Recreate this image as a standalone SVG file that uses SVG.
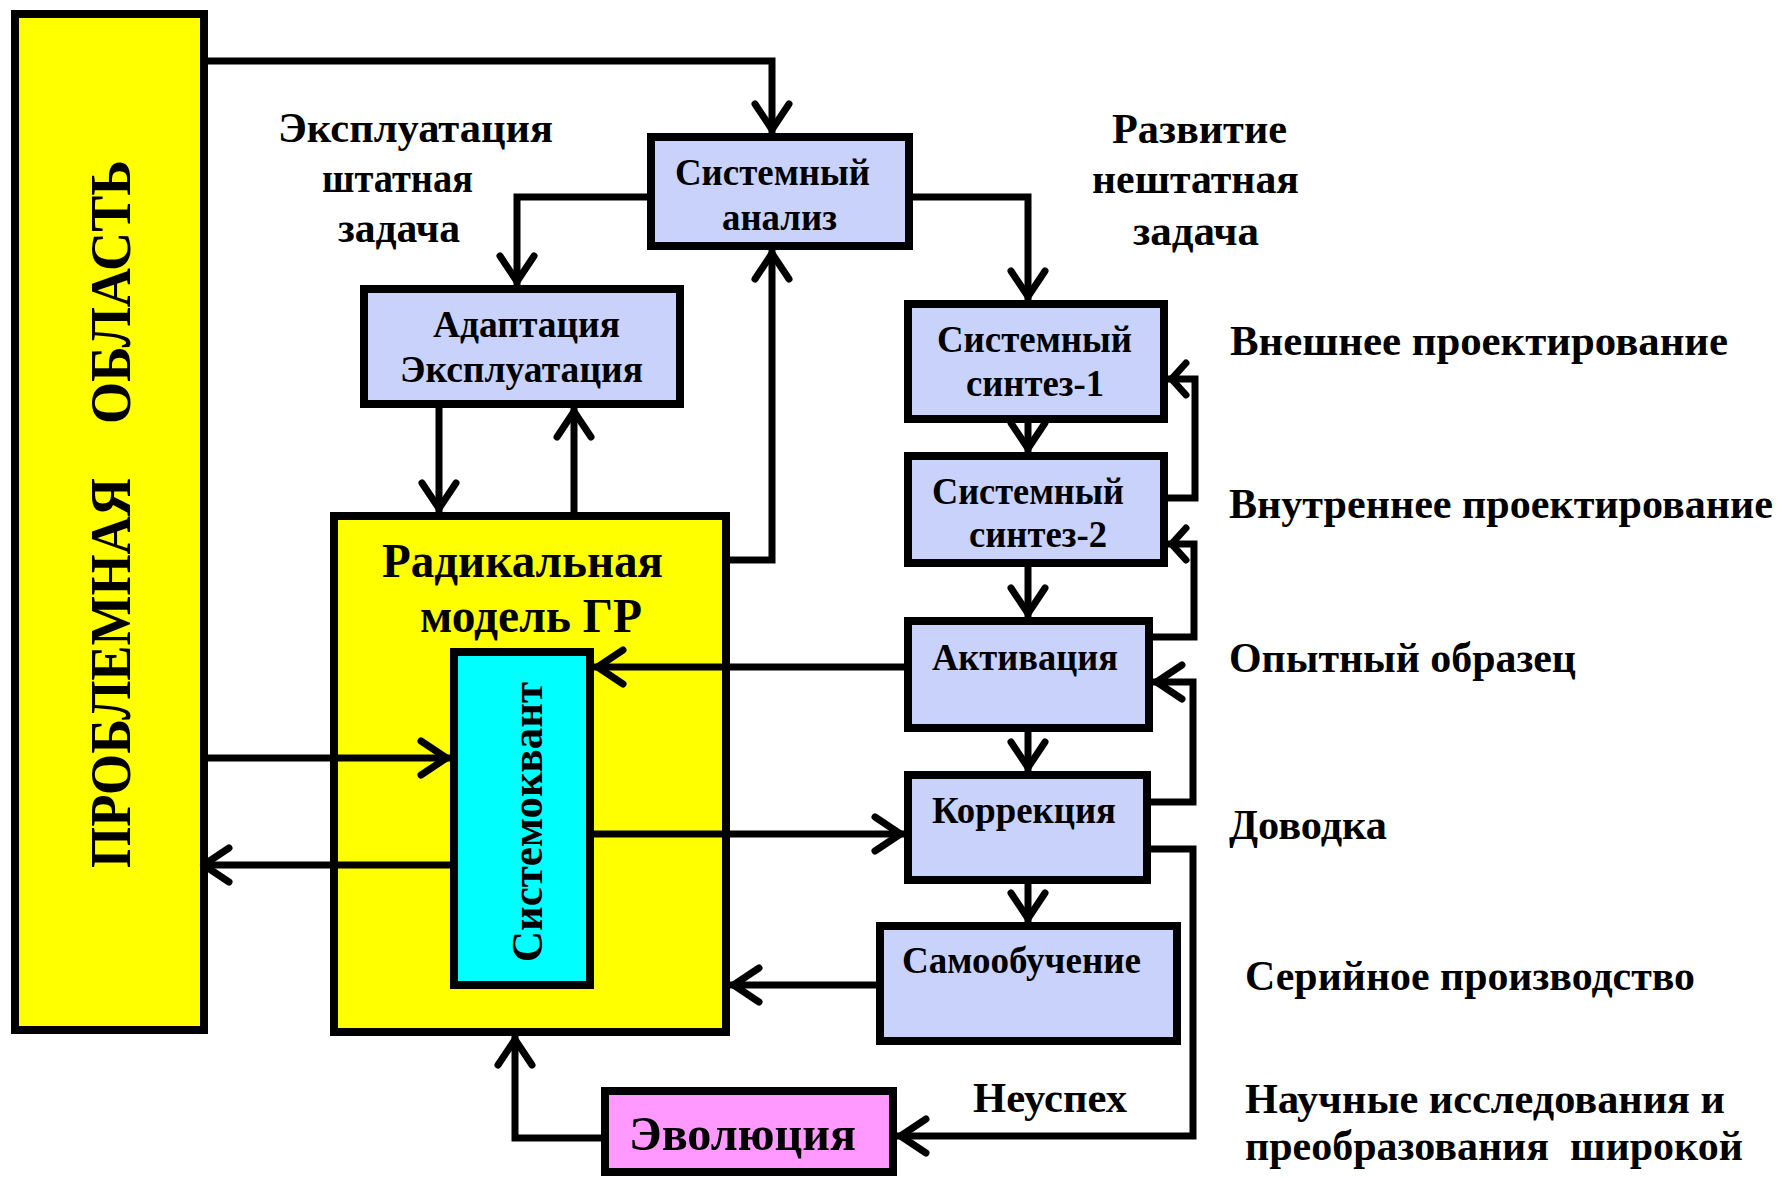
<svg xmlns="http://www.w3.org/2000/svg" width="1788" height="1178" viewBox="0 0 1788 1178">
<style>
.box{stroke:#000;stroke-width:8;fill:#C8D2FA}
.yel{fill:#FFFF00}
.cyan{fill:#00FFFF}
.pink{fill:#FF99FF}
.t{font-family:"Liberation Serif","Times New Roman",serif;font-weight:bold;fill:#000}
.bl{font-size:37px}
.big{font-size:48px}
.lab{font-size:42px}
.con{stroke:#000;stroke-width:7;fill:none;stroke-linejoin:miter}
</style>
<defs>
<marker id="ah" markerUnits="userSpaceOnUse" orient="auto" overflow="visible" refX="0" refY="0" markerWidth="1" markerHeight="1">
<path d="M-29,-17 L-3.5,0 L-29,17" fill="none" stroke="#000" stroke-width="7" stroke-linecap="round" stroke-linejoin="round"/>
</marker>
<marker id="ahs" markerUnits="userSpaceOnUse" orient="auto" overflow="visible" refX="0" refY="0" markerWidth="1" markerHeight="1">
<path d="M-18,-16 L-3.5,0 L-18,16" fill="none" stroke="#000" stroke-width="7" stroke-linecap="round" stroke-linejoin="round"/>
</marker>
</defs>
<rect width="1788" height="1178" fill="#fff"/>

<g id="problem">
<rect class="box yel" x="15" y="14" width="189" height="1016"/>
<text class="t" font-size="58" transform="rotate(-90)"><tspan x="-868" y="130" textLength="390" lengthAdjust="spacingAndGlyphs">ПРОБЛЕМНАЯ</tspan><tspan x="-424" y="130" textLength="264" lengthAdjust="spacingAndGlyphs">ОБЛАСТЬ</tspan></text>
</g>

<g id="sys-analysis">
<rect class="box" x="651" y="137" width="258" height="109"/>
<text class="t bl" x="675" y="185" textLength="195" lengthAdjust="spacingAndGlyphs">Системный</text>
<text class="t bl" x="722" y="230" textLength="115" lengthAdjust="spacingAndGlyphs">анализ</text>
</g>

<g id="adaptation">
<rect class="box" x="364" y="289" width="316" height="115"/>
<text class="t bl" x="433" y="337" textLength="187" lengthAdjust="spacingAndGlyphs">Адаптация</text>
<text class="t bl" x="400" y="382" textLength="243" lengthAdjust="spacingAndGlyphs">Эксплуатация</text>
</g>

<g id="radical-model">
<rect class="box yel" x="334" y="516" width="392" height="516"/>
<text class="t big" x="382" y="577" textLength="281" lengthAdjust="spacingAndGlyphs">Радикальная</text>
<text class="t big" x="420" y="632" textLength="222" lengthAdjust="spacingAndGlyphs">модель ГР</text>
</g>

<g id="systemoquant">
<rect class="box cyan" x="454" y="652" width="136" height="333"/>
<text class="t" font-size="45" transform="rotate(-90)" x="-962" y="542" textLength="280" lengthAdjust="spacingAndGlyphs">Системоквант</text>
</g>

<g id="synthesis-1">
<rect class="box" x="908" y="304" width="256" height="115"/>
<text class="t bl" x="937" y="352" textLength="195" lengthAdjust="spacingAndGlyphs">Системный</text>
<text class="t bl" x="966" y="396" textLength="138" lengthAdjust="spacingAndGlyphs">синтез-1</text>
</g>

<g id="synthesis-2">
<rect class="box" x="908" y="456" width="256" height="107"/>
<text class="t bl" x="932" y="504" textLength="192" lengthAdjust="spacingAndGlyphs">Системный</text>
<text class="t bl" x="969" y="547" textLength="138" lengthAdjust="spacingAndGlyphs">синтез-2</text>
</g>

<g id="activation">
<rect class="box" x="908" y="621" width="241" height="107"/>
<text class="t bl" x="932" y="670" textLength="186" lengthAdjust="spacingAndGlyphs">Активация</text>
</g>

<g id="correction">
<rect class="box" x="908" y="775" width="239" height="105"/>
<text class="t bl" x="932" y="823" textLength="184" lengthAdjust="spacingAndGlyphs">Коррекция</text>
</g>

<g id="self-learning">
<rect class="box" x="880" y="926" width="297" height="115"/>
<text class="t bl" x="902" y="973" textLength="239" lengthAdjust="spacingAndGlyphs">Самообучение</text>
</g>

<g id="evolution">
<rect class="box pink" x="605" y="1091" width="288" height="81"/>
<text class="t big" x="629" y="1150" textLength="227" lengthAdjust="spacingAndGlyphs">Эволюция</text>
</g>

<g id="connectors">
<path class="con" d="M204,61 H772 V133" marker-end="url(#ah)"/>
<path class="con" d="M651,197 H517 V285" marker-end="url(#ah)"/>
<path class="con" d="M439,408 V512" marker-end="url(#ah)"/>
<path class="con" d="M574,512 V408" marker-end="url(#ah)"/>
<path class="con" d="M730,560 H772 V250" marker-end="url(#ah)"/>
<path class="con" d="M200,758 H450" marker-end="url(#ah)"/>
<path class="con" d="M450,865 H200" marker-end="url(#ah)"/>
<path class="con" d="M904,667 H594" marker-end="url(#ah)"/>
<path class="con" d="M594,834 H904" marker-end="url(#ah)"/>
<path class="con" d="M876,985 H730" marker-end="url(#ah)"/>
<path class="con" d="M601,1138 H515 V1036" marker-end="url(#ah)"/>
<path class="con" d="M913,197 H1028 V300" marker-end="url(#ah)"/>
<path class="con" d="M1028,423 V452" marker-end="url(#ah)"/>
<path class="con" d="M1028,567 V617" marker-end="url(#ah)"/>
<path class="con" d="M1028,732 V771" marker-end="url(#ah)"/>
<path class="con" d="M1028,884 V922" marker-end="url(#ah)"/>
<path class="con" d="M1168,498 H1195 V379 H1168" marker-end="url(#ahs)"/>
<path class="con" d="M1153,637 H1194 V544 H1168" marker-end="url(#ahs)"/>
<path class="con" d="M1151,802 H1193 V682 H1153" marker-end="url(#ah)"/>
<path class="con" d="M1151,849 H1193 V1136 H897" marker-end="url(#ah)"/>
</g>

<g id="labels">
<text class="t lab" x="278" y="142" textLength="275" lengthAdjust="spacingAndGlyphs">Эксплуатация</text>
<text class="t lab" x="322" y="192" textLength="151" lengthAdjust="spacingAndGlyphs">штатная</text>
<text class="t lab" x="338" y="242" textLength="122" lengthAdjust="spacingAndGlyphs">задача</text>
<text class="t lab" x="1112" y="143" textLength="175" lengthAdjust="spacingAndGlyphs">Развитие</text>
<text class="t lab" x="1092" y="193" textLength="207" lengthAdjust="spacingAndGlyphs">нештатная</text>
<text class="t lab" x="1133" y="245" textLength="126" lengthAdjust="spacingAndGlyphs">задача</text>
<text class="t lab" x="1230" y="355" textLength="498" lengthAdjust="spacingAndGlyphs">Внешнее проектирование</text>
<text class="t lab" x="1229" y="518" textLength="544" lengthAdjust="spacingAndGlyphs">Внутреннее проектирование</text>
<text class="t lab" x="1229" y="672" textLength="347" lengthAdjust="spacingAndGlyphs">Опытный образец</text>
<text class="t lab" x="1229" y="839" textLength="158" lengthAdjust="spacingAndGlyphs">Доводка</text>
<text class="t lab" x="1245" y="990" textLength="450" lengthAdjust="spacingAndGlyphs">Серийное производство</text>
<text class="t lab" x="973" y="1112" textLength="154" lengthAdjust="spacingAndGlyphs">Неуспех</text>
<text class="t lab" x="1245" y="1113" textLength="480" lengthAdjust="spacingAndGlyphs">Научные исследования и</text>
<text class="t lab" x="1245" y="1160" textLength="498" lengthAdjust="spacingAndGlyphs" xml:space="preserve">преобразования  широкой</text>
</g>
</svg>
